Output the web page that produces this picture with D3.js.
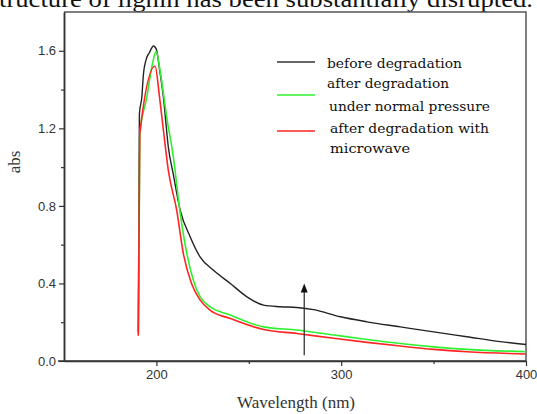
<!DOCTYPE html>
<html><head><meta charset="utf-8">
<script src="https://cdn.jsdelivr.net/npm/d3@7"></script>
<style>body{margin:0;background:#fff}svg{display:block}</style>
</head><body>
<svg id="c" width="537" height="414"></svg>
<script>
// ---- data ----
const seriesNames = ["before degradation", "after degradation under normal pressure", "after degradation with microwave"];
const blackWl = [190.2,190.8,192.1,193,194.8,196.2,198.4,199.9,201.7,203.8,206.5,209.2,212.9,218.3,223.7,230.9,240,249,258,267,276,285,299.6,314,332,350,368,386,400];
const blackAbs = [0.15,1.274,1.36,1.48,1.565,1.59,1.625,1.61,1.505,1.36,1.10,0.96,0.777,0.64,0.536,0.468,0.40,0.331,0.288,0.28,0.276,0.265,0.228,0.202,0.176,0.15,0.125,0.10,0.085];
const greenWl = [190.3,191,194.8,197.5,199.9,202,205.6,209.2,212.9,216.5,220,223.7,229,240,258,276,296,314,332,350,368,400];
const greenAbs = [0.14,1.17,1.36,1.515,1.597,1.497,1.257,1.05,0.76,0.553,0.417,0.331,0.28,0.237,0.176,0.16,0.134,0.111,0.09,0.073,0.06,0.048];
const redWl = [190.2,191,199.3,201.7,203.8,206.5,211,214.6,219,223.7,229,240,258,276,296,314,332,350,368,400];
const redAbs = [0.13,1.17,1.52,1.36,1.19,0.98,0.777,0.553,0.40,0.314,0.262,0.219,0.162,0.142,0.117,0.096,0.077,0.06,0.048,0.036];
const xMajor = [200,300,400];
const xMinor = [250,350];
const yMajor = [0.0,0.4,0.8,1.2,1.6];
const yMinor = [0.2,0.6,1.0,1.4];
const arrowX = [280,280];
const arrowY = [0.03,0.40];

const svg = d3.select("#c");
const L=64,R=526,T=12,B=361;
const x = d3.scaleLinear().domain([150,400]).range([L,R]);
const y = d3.scaleLinear().domain([0,1.8]).range([B,T]);

// clipped caption at very top (cut off in the reference too)
svg.append("text").attr("x",-1).attr("y",7)
  .attr("font-family","'Liberation Serif','Times New Roman',serif").attr("font-size",23)
  .attr("textLength",534).attr("lengthAdjust","spacingAndGlyphs").attr("fill","#111")
  .text("tructure of lignin has been substantially disrupted.");

// frame (top + right)
svg.append("path").attr("d",`M${L},${T}H${R}V${B}`).attr("fill","none").attr("stroke","#555").attr("stroke-width",1.5);

// axes
const tickFont = "'Liberation Sans',Arial,sans-serif";
const gx = svg.append("g").attr("transform",`translate(0,${B})`)
  .call(d3.axisBottom(x).tickValues(xMajor).tickSize(5).tickSizeOuter(0).tickPadding(4));
const gxm = svg.append("g").attr("transform",`translate(0,${B})`)
  .call(d3.axisBottom(x).tickValues(xMinor).tickSize(3).tickSizeOuter(0).tickFormat(""));
const gy = svg.append("g").attr("transform",`translate(${L},0)`)
  .call(d3.axisLeft(y).tickValues(yMajor).tickSize(5).tickSizeOuter(0).tickPadding(3).tickFormat(d3.format(".1f")));
const gym = svg.append("g").attr("transform",`translate(${L},0)`)
  .call(d3.axisLeft(y).tickValues(yMinor).tickSize(3).tickSizeOuter(0).tickFormat(""));
[gx,gxm,gy,gym].forEach(g=>{
  g.select(".domain").attr("stroke","#333").attr("stroke-width",1.5);
  g.selectAll(".tick line").attr("stroke","#333").attr("stroke-width",1.2);
  g.selectAll(".tick text").attr("font-family",tickFont).attr("font-size",13).attr("fill","#333");
});
gx.select(".domain").attr("d",`M${L-6},0H${R}`);

// axis titles
svg.append("text").attr("x",296).attr("y",408).attr("text-anchor","middle")
  .attr("font-family","'Liberation Serif','Times New Roman',serif").attr("font-size",17).attr("fill","#333")
  .text("Wavelength (nm)");
svg.append("text").attr("transform","translate(20,162) rotate(-90)").attr("text-anchor","middle")
  .attr("font-family","'Liberation Serif','Times New Roman',serif").attr("font-size",17).attr("fill","#333")
  .text("abs");

// curves
const line = d3.line().x(d=>x(d[0])).y(d=>y(d[1])).curve(d3.curveMonotoneX);
const series = [
  {wl:blackWl, ab:blackAbs, color:"#222", w:1.4},
  {wl:greenWl, ab:greenAbs, color:"#2ef02e", w:1.6},
  {wl:redWl, ab:redAbs, color:"#ff2424", w:1.6}
];
series.forEach(s=>{
  svg.append("path").datum(d3.zip(s.wl,s.ab)).attr("d",line)
    .attr("fill","none").attr("stroke",s.color).attr("stroke-width",s.w).attr("stroke-linejoin","round");
});

// arrow
svg.append("line").attr("x1",x(arrowX[0])).attr("x2",x(arrowX[1]))
  .attr("y1",y(arrowY[0])).attr("y2",y(arrowY[1])+7).attr("stroke","#333").attr("stroke-width",1.3);
svg.append("path").attr("d",`M${x(arrowX[1])},${y(arrowY[1])}l-3.5,9h7z`).attr("fill","#111");

// legend
const lf = "'DejaVu Serif',Cambria,serif";
const legend = [
  {y:62, color:"#333", lines:[{t:"before degradation",x:327,y:68,w:135}]},
  {y:95, color:"#2ef02e", lines:[{t:"after degradation",x:327,y:88,w:122},{t:"under normal pressure",x:329,y:111,w:161}]},
  {y:131, color:"#ff2424", lines:[{t:"after degradation with",x:330,y:133,w:159},{t:"microwave",x:330,y:153,w:80}]}
];
legend.forEach(e=>{
  svg.append("line").attr("x1",277).attr("x2",315).attr("y1",e.y).attr("y2",e.y).attr("stroke",e.color).attr("stroke-width",1.5);
  e.lines.forEach(l=>{
    svg.append("text").attr("x",l.x).attr("y",l.y).attr("font-family",lf).attr("font-size",13)
      .attr("textLength",l.w).attr("lengthAdjust","spacingAndGlyphs").attr("fill","#111").text(l.t);
  });
});
</script>
</body></html>
